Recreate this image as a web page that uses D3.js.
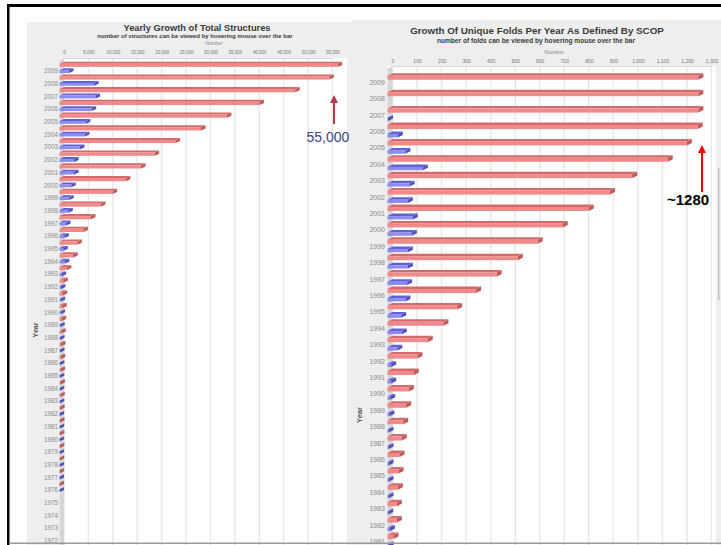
<!DOCTYPE html>
<html><head><meta charset="utf-8">
<script src="https://cdn.jsdelivr.net/npm/d3@7"></script>
<style>body{margin:0;background:#fff}svg{display:block;font-family:"Liberation Sans",Arial,sans-serif}</style>
</head><body><svg id="c" width="721" height="545"></svg>
<script>
// ---------- DATA ----------
const leftYears = ["2009","2008","2007","2006","2005","2004","2003","2002","2001","2000","1999","1998","1997","1996","1995","1994","1993","1992","1991","1990","1989","1988","1987","1986","1985","1984","1983","1982","1981","1980","1979","1978","1977","1976","1975","1974","1973","1972"];
const leftTotal = [57000,55300,48300,41000,34300,29000,23800,19500,16700,13600,10900,8500,6450,4900,3650,2800,1500,800,650,550,450,380,320,270,230,190,160,130,100,80,60,45,30,15,0,0,0,0];
const leftNew = [1950,7100,7400,6600,5400,5200,4200,3000,3000,2400,2000,1800,1350,1000,800,1100,450,300,250,200,150,120,100,80,70,60,50,40,35,30,25,20,15,10,0,0,0,0];
const leftTicks = [0,5000,10000,15000,20000,25000,30000,35000,40000,45000,50000,55000];

const rightYears = ["2009","2008","2007","2006","2005","2004","2003","2002","2001","2000","1999","1998","1997","1996","1995","1994","1993","1992","1991","1990","1989","1988","1987","1986","1985","1984","1983","1982","1981"];
const rightTotal = [1267,1267,1267,1264,1220,1142,997,907,820,714,612,531,445,361,284,228,164,122,107,87,76,64,58,49,45,42,38,38,24];
const rightNew = [0,0,2,42,73,144,90,83,103,99,83,83,80,73,56,58,40,15,15,11,8,4,4,4,4,4,3,10,5];
const rightTicks = [0,100,200,300,400,500,600,700,800,900,1000,1100,1200,1300];

const leftTitle = "Yearly Growth of Total Structures";
const leftSub = "number of structures can be viewed by hovering mouse over the bar";
const rightTitle = "Growth Of Unique Folds Per Year As Defined By SCOP";
const rightSub = "number of folds can be viewed by hovering mouse over the bar";

// ---------- DRAW ----------
const svg = d3.select("#c");
const RED = {front:"#f08a8a", top:"#d46a6a", side:"#c05a5a"};
const BLUE = {front:"#8c8cf0", top:"#6060d8", side:"#4f4fc0"};

// frame
svg.append("rect").attr("x",7).attr("y",4).attr("width",714).attr("height",3).attr("fill","#000");
svg.append("rect").attr("x",7).attr("y",4).attr("width",2.5).attr("height",541).attr("fill","#000");

function bar3d(g, x0, x1, f, h, dx, dy, col){
  g.append("polygon").attr("points",[[x0,f],[x0+dx,f-dy],[x1+dx,f-dy],[x1,f]].join(" ")).attr("fill",col.top);
  g.append("rect").attr("x",x0).attr("y",f).attr("width",Math.max(0,x1-x0)).attr("height",h).attr("fill",col.front);
  g.append("polygon").attr("points",[[x1,f],[x1+dx,f-dy],[x1+dx,f+h-dy],[x1,f+h]].join(" ")).attr("fill",col.side);
}

function chart(o){
  const g = svg.append("g");
  g.append("rect").attr("x",o.panel[0]).attr("y",o.panel[1]).attr("width",o.panel[2]).attr("height",o.panel[3]).attr("fill","#eeeeee");
  g.append("rect").attr("x",o.x0).attr("y",o.top).attr("width",o.plotR-o.x0).attr("height",545-o.top).attr("fill","#fff");
  const x = d3.scaleLinear().domain([0,o.max]).range([o.x0, o.x0+o.max*o.k]);
  const xb = d3.scaleLinear().domain([0,o.max]).range([o.x0+o.dx, o.x0+o.dx+o.max*o.k]);
  g.selectAll(".gl").data(o.ticks).join("line").attr("x1",d=>xb(d)).attr("x2",d=>xb(d))
    .attr("y1",o.top).attr("y2",545).attr("stroke","#e9e9e9").attr("stroke-width",1.5);
  g.append("polygon").attr("points",[[o.x0,o.top+o.dy],[o.x0+o.dx,o.top],[o.x0+o.dx,545],[o.x0,545]].join(" ")).attr("fill","#d6d6d6");
  const ax = g.append("g").attr("transform",`translate(0,${o.top})`)
    .call(d3.axisTop(xb).tickValues(o.ticks).tickSize(0).tickPadding(o.tickPad).tickFormat(d3.format(",")));
  ax.select(".domain").attr("stroke","#cfcfcf").attr("stroke-width",0.8);
  ax.selectAll("text").attr("font-size",o.tickFs).attr("fill","#777").attr("font-family","Liberation Sans, Arial");
  const y = d3.scaleBand().domain(o.years).range([o.b0, o.b0+o.years.length*o.step]);
  o.years.forEach((yr,i)=>{
    const b = y(yr);
    if (o.total[i] > 0) bar3d(g, x(0), x(o.total[i]), b+o.rf, o.rh, o.dx, o.dy, RED);
    if (o.news[i] > 0) bar3d(g, x(0), x(o.news[i]), b+o.bf, o.bh, o.dx, o.dy, BLUE);
  });
  const ay = g.append("g").attr("transform",`translate(${o.labX},${o.labDy})`)
    .call(d3.axisLeft(y).tickSize(0).tickPadding(0));
  ay.select(".domain").remove();
  ay.selectAll("text").attr("font-size",o.yFs).attr("fill","#8a8a8a").attr("font-family","Liberation Sans, Arial");
  g.append("text").attr("x",o.tx).attr("y",o.ty).attr("text-anchor","middle").attr("font-weight","bold")
    .attr("font-size",o.tFs).attr("fill","#3a3a3a").text(o.title);
  g.append("text").attr("x",o.sx).attr("y",o.sy).attr("text-anchor","middle").attr("font-weight","bold")
    .attr("font-size",o.sFs).attr("fill","#3a3a3a").text(o.sub);
  g.append("text").attr("x",o.nx).attr("y",o.ny).attr("text-anchor","middle")
    .attr("font-size",o.nFs).attr("fill","#888").text("Number");
  g.append("text").attr("transform",`translate(${o.yx},${o.yy}) rotate(-90)`).attr("text-anchor","middle")
    .attr("font-weight","bold").attr("font-size",o.yLFs).attr("fill","#555").text("Year");
}

chart({panel:[27,22,324,523], x0:59.5, dx:4.5, dy:2, top:58, plotR:347, max:55000, k:0.00488,
  ticks:leftTicks, tickPad:4.4, tickFs:4.5, years:leftYears, total:leftTotal, news:leftNew,
  b0:61.7, step:12.7, rf:2, rh:3.2, bf:8.5, bh:2.8, labX:58, labDy:3.2, yFs:6.3,
  title:leftTitle, tx:197, ty:31.3, tFs:9.3, sub:leftSub, sx:195, sy:37.8, sFs:6,
  nx:214, ny:45, nFs:4.8, yx:38, yy:330, yLFs:7});

chart({panel:[351,20,370,525], x0:387.5, dx:5, dy:2.5, top:66, plotR:716, max:1300, k:0.24538,
  ticks:rightTicks, tickPad:3.2, tickFs:5, years:rightYears, total:rightTotal, news:rightNew,
  b0:72.3, step:16.4, rf:3.5, rh:4, bf:12.6, bh:3.3, labX:385, labDy:2.1, yFs:7,
  title:rightTitle, tx:537, ty:33.8, tFs:9.8, sub:rightSub, sx:536, sy:42.8, sFs:6.6,
  nx:554, ny:54, nFs:5.5, yx:362, yy:415, yLFs:7.5});

svg.append("rect").attr("x",718).attr("y",168).attr("width",1.5).attr("height",132).attr("fill","#c4c4c4");
svg.append("rect").attr("x",9).attr("y",542.5).attr("width",712).attr("height",1.5).attr("fill","#9a9a9a");

const defs = svg.append("defs");
function marker(id,col){
  defs.append("marker").attr("id",id).attr("viewBox","0 0 10 10").attr("refX",5).attr("refY",5)
    .attr("markerWidth",4).attr("markerHeight",4).attr("orient","auto")
    .append("path").attr("d","M0,0L10,5L0,10z").attr("fill",col);
}
marker("ma","#c0344a"); marker("mb","#ff0000");
svg.append("line").attr("x1",334).attr("y1",124).attr("x2",334).attr("y2",99)
  .attr("stroke","#c0344a").attr("stroke-width",2).attr("marker-end","url(#ma)");
svg.append("text").attr("x",306.5).attr("y",141.7).attr("font-size",14).attr("fill","#3d4888").text("55,000");
svg.append("line").attr("x1",702).attr("y1",192).attr("x2",702).attr("y2",149)
  .attr("stroke","#ff0000").attr("stroke-width",2).attr("marker-end","url(#mb)");
svg.append("text").attr("x",667).attr("y",205).attr("font-size",15).attr("font-weight","bold").attr("fill","#000").text("~1280");
</script></body></html>
